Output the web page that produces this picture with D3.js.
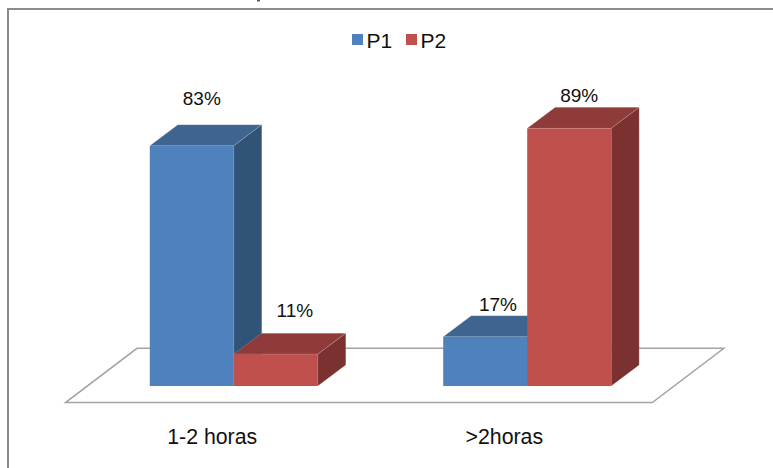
<!DOCTYPE html>
<html>
<head>
<meta charset="utf-8">
<style>
html,body{margin:0;padding:0;background:#fff;}
svg{display:block;}
text{font-family:"Liberation Sans",Arial,sans-serif;fill:#111;}
</style>
<script src="https://cdn.jsdelivr.net/npm/d3@7"></script>
</head>
<body>
<svg id="chart" width="773" height="468"></svg>
<script>
const categories = ["1-2 horas", ">2horas"];
const seriesNames = ["P1", "P2"];
const p1Values = [0.83, 0.17];
const p2Values = [0.11, 0.89];
const faceColors = ["#4f81bd", "#c0504d"];
const topColors = ["#3e648f", "#8f3b39"];
const sideColors = ["#325378", "#7a3130"];

const W = 773, H = 468;
const floorFrontY = 402.6, floorBackY = 348.3, floorL = 65.5, floorR = 652.3;
const baseY = 386, depthX = 28, depthY = 21, barW = 84, floorSkew = 71.5, groupShift = 21.6;

const svg = d3.select("#chart");
const x0 = d3.scaleBand().domain(categories).range([floorL, floorR]);
const x1 = d3.scaleBand().domain(seriesNames)
  .range([x0.bandwidth() / 2 - barW + groupShift, x0.bandwidth() / 2 + barW + groupShift]);
const y = d3.scaleLinear().domain([0, 1]).range([baseY, baseY - 289.5]);
const fmt = d3.format(".0%");
const line = d3.line();

// outer frame (cropped: only top and left edges are visible)
svg.append("path").attr("d", line([[8, H], [8, 9], [W, 9]]))
  .attr("fill", "none").attr("stroke", "#8c8c8c").attr("stroke-width", 2);
// remnant of cropped title
svg.append("rect").attr("x", 257).attr("y", 0).attr("width", 3).attr("height", 1.5).attr("fill", "#555");

// 3D floor
svg.append("path")
  .attr("d", line([[floorL, floorFrontY], [floorR, floorFrontY], [floorR + floorSkew, floorBackY], [floorL + floorSkew, floorBackY]]) + "Z")
  .attr("fill", "#fff").attr("stroke", "#a3a3a3").attr("stroke-width", 1.5);

// bars
const edge = "rgba(255,255,255,0.28)";
const rows = categories.flatMap((c, i) => [
  { c, s: seriesNames[0], si: 0, v: p1Values[i] },
  { c, s: seriesNames[1], si: 1, v: p2Values[i] }
]);
const bars = svg.append("g").selectAll("g").data(rows).join("g");
bars.append("path").attr("fill", d => topColors[d.si]).attr("stroke", edge).attr("stroke-width", .6)
  .attr("d", d => { const l = x0(d.c) + x1(d.s), t = y(d.v);
    return line([[l, t], [l + depthX, t - depthY], [l + barW + depthX, t - depthY], [l + barW, t]]) + "Z"; });
bars.append("path").attr("fill", d => sideColors[d.si]).attr("stroke", edge).attr("stroke-width", .6)
  .attr("d", d => { const l = x0(d.c) + x1(d.s) + barW, t = y(d.v);
    return line([[l, t], [l + depthX, t - depthY], [l + depthX, baseY - depthY], [l, baseY]]) + "Z"; });
bars.append("rect").attr("fill", d => faceColors[d.si])
  .attr("x", d => x0(d.c) + x1(d.s)).attr("y", d => y(d.v))
  .attr("width", barW).attr("height", d => baseY - y(d.v));

// data labels (hand-placed in the original)
const labelDx = [10, 19, 12.7, 10];
const labelDy = [-41, -37.2, -26, -26.6];
svg.append("g").selectAll("text").data(rows).join("text")
  .attr("x", (d, i) => x0(d.c) + x1(d.s) + barW / 2 + labelDx[i])
  .attr("y", (d, i) => y(d.v) + labelDy[i])
  .attr("text-anchor", "middle").attr("font-size", 19)
  .text(d => fmt(d.v));

// category labels
svg.append("g").selectAll("text").data(categories).join("text")
  .attr("x", (d, i) => x0(d) + x0.bandwidth() / 2 + [0, -1.3][i])
  .attr("y", 443.5)
  .attr("text-anchor", "middle").attr("font-size", 21.3)
  .text(d => d);

// legend
const legendX = d3.scaleOrdinal().domain(seriesNames).range([352, 406]);
const leg = svg.append("g").selectAll("g").data(seriesNames).join("g");
leg.append("rect").attr("x", d => legendX(d)).attr("y", 34).attr("width", 11).attr("height", 11)
  .attr("fill", (d, i) => faceColors[i]);
leg.append("text").attr("x", d => legendX(d) + 14.5).attr("y", 48).attr("font-size", 21).text(d => d);
</script>
</body>
</html>
